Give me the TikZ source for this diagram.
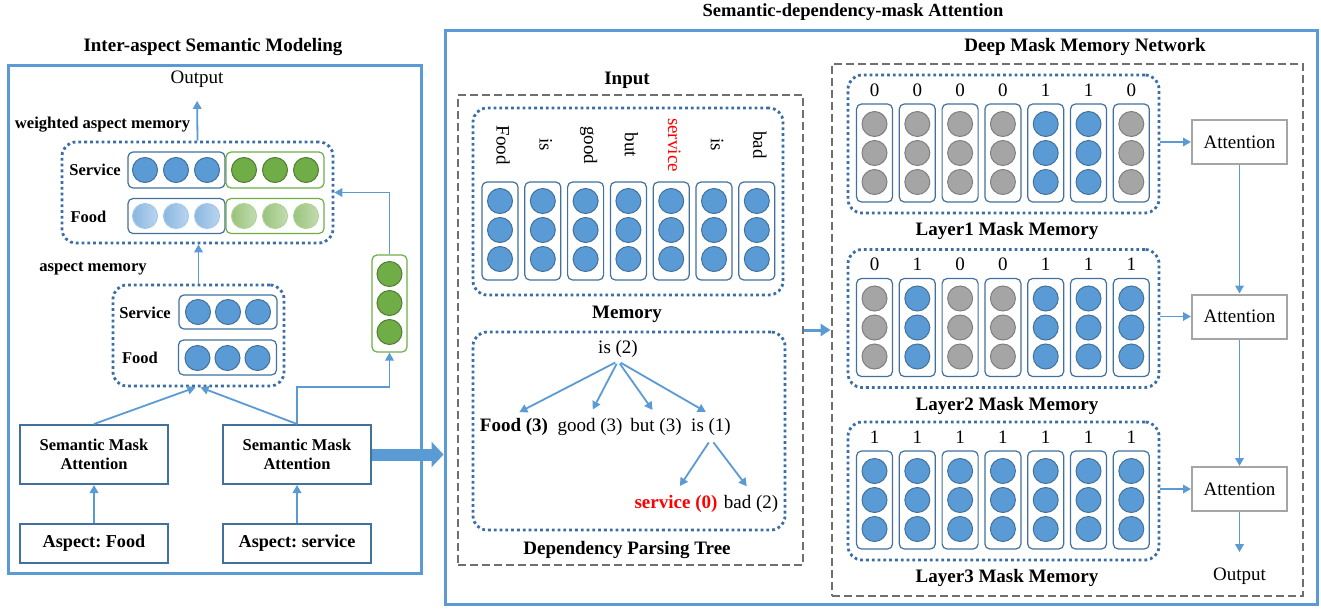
\documentclass[tikz,border=0pt]{standalone}
\usepackage{fontspec}
\setmainfont{Liberation Serif}
\usetikzlibrary{arrows.meta,calc}
\frenchspacing

\definecolor{lineblue}{HTML}{5B9BD5}
\definecolor{edgeblue}{HTML}{41719C}
\definecolor{dotblue}{HTML}{3A6EA5}
\definecolor{fillgrey}{HTML}{A5A5A5}
\definecolor{edgegrey}{HTML}{7F7F7F}
\definecolor{fillgreen}{HTML}{70AD47}
\definecolor{edgegreen}{HTML}{507E32}
\definecolor{dashgrey}{HTML}{6F6F6F}
\definecolor{attgrey}{HTML}{A5A5A5}
\definecolor{wordred}{HTML}{FF0000}

\tikzset{
  every node/.style={font=\fontsize{19}{22}\selectfont},
  bf/.style={font=\fontsize{19}{22}\selectfont\bfseries},
  titlebf/.style={font=\fontsize{18.5}{22}\selectfont\bfseries},
  midbf/.style={font=\fontsize{16.6}{19}\selectfont\bfseries},
  smallbf/.style={font=\fontsize{16.5}{19}\selectfont\bfseries},
  aspbf/.style={font=\fontsize{18.2}{21}\selectfont\bfseries},
  sized/.style 2 args={minimum width=#1pt, minimum height=#2pt, inner sep=0pt},
  panelbox/.style={draw=lineblue, line width=3pt},
  dotbox/.style={draw=dotblue, line width=2.8pt, dash pattern=on 2.8pt off 3pt, rounded corners=14pt},
  dashbox/.style={draw=dashgrey, line width=2.8pt, dash pattern=on 8pt off 4pt},
  colbox/.style={draw=edgeblue, line width=1.2pt, rounded corners=5pt},
  gbox/.style={draw=fillgreen, line width=1.2pt, rounded corners=5pt},
  plainbox/.style={draw=edgeblue, line width=2pt, align=center},
  attbox/.style={draw=attgrey, line width=2pt},
  circ/.style={circle, line width=1pt, minimum size=25pt, inner sep=0pt},
  on/.style={circ, fill=lineblue, draw=edgeblue},
  off/.style={circ, fill=fillgrey, draw=edgegrey},
  gon/.style={circ, fill=fillgreen, draw=edgegreen},
  lighton/.style={circ, left color=lineblue!72, right color=lineblue!42, draw=lineblue!55},
  lightgon/.style={circ, left color=fillgreen!72, right color=fillgreen!42, draw=fillgreen!55},
  mask0/.style={off},
  mask1/.style={on},
  arr/.style={draw=lineblue, line width=1.8pt, -{Triangle[length=8pt,width=8.5pt]}},
}

\begin{document}
\begin{tikzpicture}[x=1pt, y=-1pt]
\useasboundingbox (0,0) rectangle (1321,608);
\fill[white] (0,0) rectangle (1321,608);

% ---------------- Inter-aspect semantic modeling ----------------
\node[panelbox, sized={413}{508}] (leftpanel) at (214.5,319) {};
\node[bf] (lefttitle) at (213,47) {Inter-aspect Semantic Modeling};
\node (outL) at (197,79) {Output};
\node[midbf] (wlab) at (102.5,125) {weighted aspect memory};

% weighted aspect memory
\node[dotbox, sized={271}{101}] (wbox) at (197.5,192.5) {};
\node[smallbf] (wservlab) at (95,170) {Service};
\node[colbox, sized={97}{36}] (wsb) at (176.5,170) {};
\node[gbox, sized={98}{36}] (wsg) at (275,170) {};
\foreach \i/\x in {1/145,2/176,3/207} \node[on] (wsb\i) at (\x,170) {};
\foreach \i/\x in {1/244,2/275,3/306} \node[gon] (wsg\i) at (\x,170) {};
\node[smallbf] (wfoodlab) at (88.5,217) {Food};
\node[colbox, sized={97}{35}] (wfb) at (176.5,216) {};
\node[gbox, sized={98}{35}] (wfg) at (275,216) {};
\foreach \i/\x in {1/145,2/176,3/207} \node[lighton] (wfb\i) at (\x,216) {};
\foreach \i/\x in {1/244,2/275,3/306} \node[lightgon] (wfg\i) at (\x,216) {};
\draw[arr, shorten >=10pt] (wbox.north) -- (outL.south);

% aspect memory
\node[midbf] (amlab) at (93,269) {aspect memory};
\node[dotbox, sized={171}{101}] (ambox) at (198.5,335.5) {};
\node[smallbf] (amservlab) at (145,313) {Service};
\node[colbox, sized={98}{34}] (amsb) at (228,312) {};
\foreach \i/\x in {1/198,2/228,3/258} \node[on] (amsb\i) at (\x,312) {};
\node[smallbf] (amfoodlab) at (140,358) {Food};
\node[colbox, sized={98}{35}] (amfb) at (227.5,357.5) {};
\foreach \i/\x in {1/197.5,2/227.5,3/257.5} \node[on] (amfb\i) at (\x,358) {};
\draw[arr] (ambox.north) -- (ambox.north |- wbox.south);

% green vector
\node[gbox, sized={35}{97}] (gcol) at (389.5,303.5) {};
\foreach \i/\y in {1/274,2/303,3/332} \node[gon] (gcol\i) at (389.5,\y) {};
\draw[arr] (gcol.north) |- (wbox.east);

% attention and aspect boxes
\node[plainbox, smallbf, sized={148}{59}] (sma1) at (94,454.5) {Semantic Mask\\Attention};
\node[plainbox, smallbf, sized={148}{59}] (sma2) at (297,454.5) {Semantic Mask\\Attention};
\node[plainbox, aspbf, sized={148}{39}] (asp1) at (94,543.5) {Aspect: Food};
\node[plainbox, aspbf, sized={148}{39}] (asp2) at (297,543.5) {Aspect: service};
\draw[arr] (asp1.north) -- (sma1.south);
\draw[arr] (asp2.north) -- (sma2.south);
\draw[arr] (sma1.north) -- ([xshift=-3pt]ambox.south);
\draw[arr] (sma2.north) -- ([xshift=2pt]ambox.south);
\draw[arr] (sma2.north) -- ++(0,-37) -| (gcol.south);

% ---------------- Semantic-dependency-mask attention ----------------
\node[panelbox, sized={872}{574}] (rightpanel) at (881,317) {};
\node[titlebf] (righttitle) at (853,12) {Semantic-dependency-mask Attention};
\draw[line width=12pt, lineblue, -{Triangle[length=12pt,width=25pt]}] (sma2.east) -- (sma2.east -| rightpanel.west);

% input sentence and memory
\node[dashbox, sized={345}{470}] (inbox) at (630.5,330) {};
\node[bf] (intitle) at (627,80) {Input};
\node[dotbox, sized={310}{187}] (indot) at (628,201.5) {};
\foreach \w [count=\i from 0] in {Food,is,good,but,{\textcolor{wordred}{service}},is,bad} {
  \pgfmathsetmacro\cx{500+42.8*\i}
  \node[rotate=-90] (word\i) at (\cx+3,145) {\w};
  \node[colbox, sized={36}{98}] (in\i) at (\cx,231) {};
  \foreach \r/\yy in {1/201,2/230,3/259} \node[on] (in\i c\r) at (\cx,\yy) {};
}
\node[bf] (memtitle) at (627,314) {Memory};

% dependency parsing tree
\node[dotbox, sized={312}{198}] (treebox) at (629,431) {};
\node (root) at (618,349) {is (2)};
\node[bf] (tfood) at (514,427) {Food (3)};
\node (tgood) at (590,427) {good (3)};
\node (tbut) at (656,427) {but (3)};
\node (tis) at (711,427) {is (1)};
\node[bf, text=wordred] (tserv) at (676,504) {service (0)};
\node (tbad) at (751,504) {bad (2)};
\foreach \c in {tfood,tgood,tbut,tis}
  \draw[arr, shorten <=3pt, shorten >=6pt] (root.south) -- (\c.north);
\draw[arr, shorten <=4pt, shorten >=7pt] (tis.south) -- (tserv.north);
\draw[arr, shorten <=4pt, shorten >=7pt] (tis.south) -- (tbad.north);
\node[bf] (dptitle) at (627,550) {Dependency Parsing Tree};

% deep mask memory network
\node[dashbox, sized={471}{532}] (deepbox) at (1067.5,330) {};
\node[bf] (deeptitle) at (1085,47) {Deep Mask Memory Network};
\draw[draw=lineblue, line width=3pt, -{Triangle[length=10pt,width=12pt]}] (inbox.east) -- (deepbox.west);

\foreach \lay/\cy/\mask in {1/144/{0,0,0,0,1,1,0}, 2/318.5/{0,1,0,0,1,1,1}, 3/491/{1,1,1,1,1,1,1}} {
  \node[dotbox, sized={311}{138}] (layer\lay) at (1003.5,\cy) {};
  \node[bf] (layer\lay lab) at (1007,\cy+87) {Layer\lay\ Mask Memory};
  \foreach \m [count=\i from 0] in \mask {
    \pgfmathsetmacro\cx{874.5+42.8*\i}
    \node (m\lay n\i) at (\cx,\cy-54) {\m};
    \node[colbox, sized={36}{98}] (m\lay b\i) at (\cx,\cy+9) {};
    \foreach \r/\dy in {1/-20,2/9,3/38} \node[mask\m] (m\lay b\i c\r) at (\cx,\cy+\dy) {};
  }
  \node[attbox, sized={95}{44}] (att\lay) at (1239.5,\cy-2) {Attention};
  \draw[arr] (layer\lay.east |- att\lay.west) -- (att\lay.west);
}
\draw[arr] (att1.south) -- (att2.north);
\draw[arr] (att2.south) -- (att3.north);
\node (outR) at (1239.5,576) {Output};
\draw[arr, shorten >=12pt] (att3.south) -- (outR.north);
\end{tikzpicture}
\end{document}
